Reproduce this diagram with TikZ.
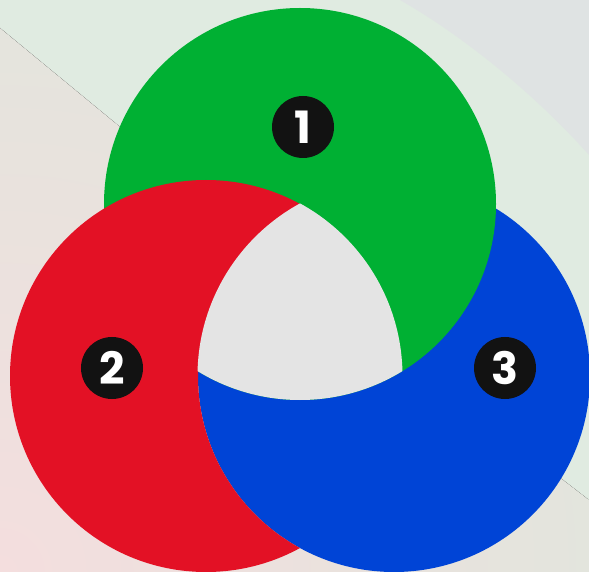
\documentclass[tikz,border=0pt]{standalone}
\usepackage{fontspec}
\newfontfamily\badgefont{Poppins}
\usetikzlibrary{positioning}

\definecolor{ringgreen}{HTML}{00B033}
\definecolor{ringred}{HTML}{E31125}
\definecolor{ringblue}{HTML}{0044D6}
\definecolor{coregray}{HTML}{E4E4E4}
\definecolor{bgmint}{HTML}{E0EBE1}
\definecolor{bggray}{HTML}{DFE3E3}
\definecolor{bgstone}{HTML}{E2E5DD}
\definecolor{bgpink}{HTML}{F4DEDE}

\begin{document}
\begin{tikzpicture}[x=0.03cm, y=0.03cm]
        \tikzstyle{badge} = [circle, fill=black!93, text=white, minimum size=1.86cm, inner sep=0pt, font=\badgefont\bfseries\fontsize{38}{38}\selectfont]

        % background
        \useasboundingbox (0,0) rectangle (589,-572);
        \fill[bgmint] (0,0) rectangle (589,-572);
        \fill[bggray] (400,0) .. controls (470,-40) and (540,-100) .. (589,-155) -- (589,0) -- cycle;
        \begin{scope}
            \clip (0,-28) -- (330,-300) -- (589,-500) -- (589,-572) -- (0,-572) -- cycle;
            \fill[inner color=bgpink, outer color=bgstone] (0,-572) circle (620);
        \end{scope}

        % ring centres
        \coordinate (gc) at (300,-204);
        \coordinate (rc) at (206,-376);
        \coordinate (bc) at (394,-376);

        \fill[ringblue] (bc) circle (196);
        \fill[ringgreen] (gc) circle (196);
        \begin{scope}
            \clip (rc) circle (196);
            \fill[ringred, even odd rule] (-10,10) rectangle (600,-600) (bc) circle (196);
        \end{scope}
        \begin{scope}
            \clip (rc) circle (196.5);
            \clip (gc) circle (196);
            \fill[coregray] (bc) circle (196.5);
        \end{scope}

        \node (one) [badge] at (303,-127) {1};
        \node (two) [badge] at (112,-368) {2};
        \node (three) [badge] at (505,-368) {3};
    \end{tikzpicture}
\end{document}
